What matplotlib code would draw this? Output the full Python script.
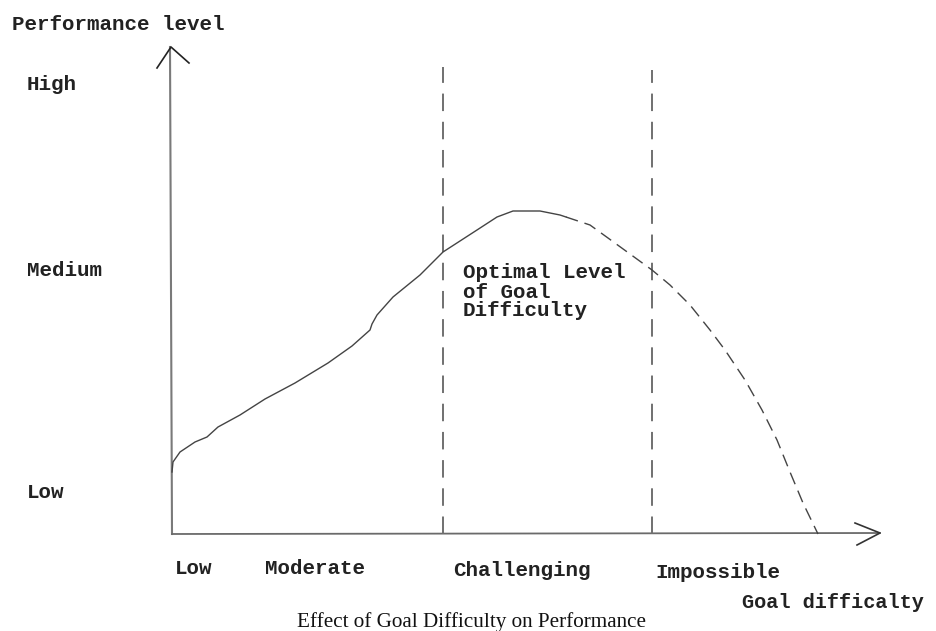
import matplotlib
matplotlib.use("Agg")
import matplotlib.pyplot as plt
import numpy as np

# goal difficulty vs performance (units: origin at the axes corner)
solid_x = [0, 1, 8, 23, 35, 46, 68, 93, 123, 156, 180, 198, 200, 205, 221, 248, 271, 305, 325, 341, 368, 388, 394]
solid_y = [62, 72, 82, 92, 97, 107, 119, 135, 151, 171, 188, 204, 210, 219, 237, 259, 282, 304, 317, 323, 323, 319, 317]
dash_x = [394, 418, 436, 458, 480, 498, 518, 538, 553, 573, 590, 605, 618, 631, 646]
dash_y = [317, 309, 296, 280, 264, 249, 229, 204, 184, 154, 124, 94, 62, 31, 0]

zone_lines = [271, 480]
zone_tops = [467, 464]

y_labels = ['High', 'Medium', 'Low']
y_label_pos = [449, 264, 41]
x_labels = ['Low', 'Moderate', 'Challenging', 'Impossible']
x_label_pos = [3, 93, 281, 483]
x_label_y = [-34, -35, -37, -39]
note_lines = ['Optimal Level', 'of Goal', 'Difficulty']
note_y = [262, 242, 224]

mono = 'Liberation Mono'
fs = 15

fig = plt.figure(figsize=(9.37, 6.31), dpi=100)
ax = fig.add_axes([0, 0, 1, 1])
ax.set_xlim(-172, 765)
ax.set_ylim(-97, 534)
ax.axis('off')

# axes with hand drawn arrow heads
ax.plot([0, -2], [0, 487], color='#7a7a7a', lw=1.5)
ax.plot([-15, -1, 17], [466, 487, 471], color='#222222', lw=1.2)
ax.plot([0, 708], [0, 1], color='#6a6a6a', lw=1.3)
ax.plot([683, 708, 685], [11, 1, -11], color='#333333', lw=1.2)

# zone borders
for x0, top in zip(zone_lines, zone_tops):
    ax.plot([x0, x0], [0, top], color='#707070', lw=1.4, dashes=(9, 5.5))

# performance curve
ax.plot(solid_x, solid_y, color='#444444', lw=1.0)
ax.plot(dash_x, dash_y, color='#444444', lw=1.0, dashes=(9, 5))

ax.text(-160, 509, 'Performance level', family=mono, fontsize=fs,
        fontweight='bold', va='center', ha='left', color='#222222')
for lab, yy in zip(y_labels, y_label_pos):
    ax.text(-145, yy, lab, family=mono, fontsize=fs, fontweight='bold',
            va='center', ha='left', color='#222222')
for lab, xx, yy in zip(x_labels, x_label_pos, x_label_y):
    ax.text(xx, yy, lab, family=mono, fontsize=fs, fontweight='bold',
            va='center', ha='left', color='#222222')
ax.text(570, -69, 'Goal difficalty', family=mono, fontsize=14.6,
        fontweight='bold', va='center', ha='left', color='#222222')

for lab, yy in zip(note_lines, note_y):
    ax.text(291, yy, lab, family=mono, fontsize=fs, fontweight='bold',
            va='center', ha='left', color='#222222')

ax.text(300, -88, 'Effect of Goal Difficulty on Performance',
        family='Liberation Serif', fontsize=15.2, va='center', ha='center',
        color='#111111')

plt.savefig('out.png', dpi=100)
